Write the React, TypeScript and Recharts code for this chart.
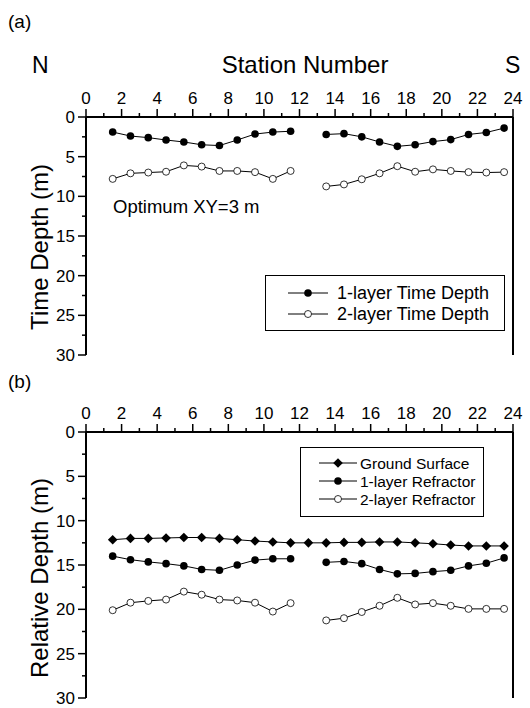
import React from 'react';
import { LineChart, Line, XAxis, YAxis, Legend } from 'recharts';

// station positions (12.5 only measured for ground surface)
const stations = [1.5, 2.5, 3.5, 4.5, 5.5, 6.5, 7.5, 8.5, 9.5, 10.5, 11.5, 12.5, 13.5, 14.5, 15.5, 16.5, 17.5, 18.5, 19.5, 20.5, 21.5, 22.5, 23.5];

// (a) time depths, m
const timeDepth1 = [1.9, 2.4, 2.6, 2.9, 3.15, 3.5, 3.6, 2.9, 2.15, 1.9, 1.8, null, 2.2, 2.1, 2.5, 3.15, 3.7, 3.5, 3.1, 2.85, 2.2, 1.95, 1.4];
const timeDepth2 = [7.8, 7.1, 7.0, 6.9, 6.1, 6.25, 6.8, 6.8, 6.95, 7.8, 6.8, null, 8.75, 8.5, 7.85, 7.1, 6.2, 6.9, 6.6, 6.8, 6.95, 7.0, 6.95];

// (b) relative depths, m
const groundSurface = [12.15, 12.0, 12.0, 11.95, 11.9, 11.9, 12.0, 12.15, 12.3, 12.4, 12.5, 12.5, 12.5, 12.45, 12.45, 12.4, 12.4, 12.5, 12.6, 12.75, 12.85, 12.85, 12.85];
const refractor1 = [14.0, 14.4, 14.65, 14.85, 15.1, 15.5, 15.6, 15.0, 14.45, 14.3, 14.3, null, 14.7, 14.6, 14.85, 15.5, 16.0, 15.95, 15.75, 15.6, 15.1, 14.8, 14.2];
const refractor2 = [20.1, 19.25, 19.05, 18.9, 18.0, 18.35, 18.9, 19.0, 19.25, 20.25, 19.3, null, 21.25, 21.0, 20.3, 19.6, 18.7, 19.45, 19.3, 19.6, 19.95, 19.95, 19.95];

const xTicks = [0, 1, 2, 3, 4, 5, 6, 7, 8, 9, 10, 11, 12, 13, 14, 15, 16, 17, 18, 19, 20, 21, 22, 23, 24];
const yTicks = [0, 2.5, 5, 7.5, 10, 12.5, 15, 17.5, 20, 22.5, 25, 27.5, 30];

const dataA = stations.map((s, i) => ({ s, td1: timeDepth1[i], td2: timeDepth2[i] }));
const dataB = stations.map((s, i) => ({ s, gs: groundSurface[i], r1: refractor1[i], r2: refractor2[i] }));

const FONT = '"Liberation Sans", Arial, sans-serif';
const TS = 8;
const TM = 3;

function Marker({ cx, cy, kind }: { cx: number; cy: number; kind: string }) {
    if (cx == null || cy == null) return null;
    if (kind === 'diamond') {
        const d = 4.8;
        return <polygon points={`${cx},${cy - d} ${cx + d},${cy} ${cx},${cy + d} ${cx - d},${cy}`} fill="#000" />;
    }
    if (kind === 'open') return <circle cx={cx} cy={cy} r={3.5} fill="#fff" stroke="#000" strokeWidth={0.8} />;
    return <circle cx={cx} cy={cy} r={3.8} fill="#000" />;
}

const dotOf = (kind: string) => (p: any) => <Marker key={p.index} cx={p.cx} cy={p.cy} kind={kind} />;

function TopTick(p: any) {
    const v = p.payload.value;
    const major = v % 2 === 0;
    const ay = p.y + TM + TS;
    return (
        <g>
            <line x1={p.x} x2={p.x} y1={ay - (major ? 8 : 4)} y2={ay} stroke="#000" strokeWidth={1.5} />
            {major && <text x={p.x} y={ay - 13} textAnchor="middle" fontSize={17} fontFamily={FONT} fill="#000">{v}</text>}
        </g>
    );
}

function LeftTick(p: any) {
    const v = p.payload.value;
    const major = v % 5 === 0;
    const ax = p.x + TM + TS;
    return (
        <g>
            <line x1={ax - (major ? 8 : 4)} x2={ax} y1={p.y} y2={p.y} stroke="#000" strokeWidth={1.5} />
            {major && <text x={ax - 11} y={p.y} dy="0.36em" textAnchor="end" fontSize={17} fontFamily={FONT} fill="#000">{v}</text>}
        </g>
    );
}

function RightTick(p: any) {
    const v = p.payload.value;
    const major = v % 5 === 0;
    const ax = p.x - TM - TS;
    return <line x1={ax} x2={ax + (major ? 8 : 4)} y1={p.y} y2={p.y} stroke="#000" strokeWidth={1.5} />;
}

type Entry = { name: string; kind: string };
const legendA: Entry[] = [
    { name: '1-layer Time Depth', kind: 'filled' },
    { name: '2-layer Time Depth', kind: 'open' },
];
const legendB: Entry[] = [
    { name: 'Ground Surface', kind: 'diamond' },
    { name: '1-layer Refractor', kind: 'filled' },
    { name: '2-layer Refractor', kind: 'open' },
];

const legendBox = (entries: Entry[], o: any) => () => (
    <svg width={o.w} height={o.h} style={{ display: 'block', overflow: 'visible' }}>
        <rect x={0.5} y={0.5} width={o.w - 1} height={o.h - 1} fill="#fff" stroke="#000" strokeWidth={1} />
        {entries.map((e, i) => {
            const y = o.top + i * o.rowH;
            return (
                <g key={e.name}>
                    <line x1={o.l1} x2={o.l2} y1={y} y2={y} stroke="#000" strokeWidth={1} />
                    <Marker cx={(o.l1 + o.l2) / 2} cy={y} kind={e.kind} />
                    <text x={o.tx} y={y} dy="0.36em" fontSize={o.fs} fontFamily={FONT} fill="#000">{e.name}</text>
                </g>
            );
        })}
    </svg>
);

const axisLine = { stroke: '#000', strokeWidth: 2 };

function Panel({ data, height, top, series, legend }: any) {
    return (
        <div style={{ position: 'absolute', left: 0, top }}>
            <LineChart width={530} height={height} data={data} margin={{ top: top === 0 ? 87 : 22, left: 46, right: 7, bottom: top === 0 ? 25 : 10 }}>
                <XAxis dataKey="s" type="number" orientation="top" domain={[0, 24]} ticks={xTicks} interval={0} height={30}
                    axisLine={axisLine} tickLine={false} tickSize={TS} tickMargin={TM} tick={<TopTick />} />
                <YAxis yAxisId="l" type="number" domain={[0, 30]} reversed ticks={yTicks} interval={0} width={40}
                    axisLine={axisLine} tickLine={false} tickSize={TS} tickMargin={TM} tick={<LeftTick />} />
                <YAxis yAxisId="r" orientation="right" type="number" domain={[0, 30]} reversed ticks={yTicks} interval={0} width={10}
                    axisLine={axisLine} tickLine={false} tickSize={TS} tickMargin={TM} tick={<RightTick />} />
                {series.map((sr: any) => (
                    <Line key={sr.key} yAxisId="l" dataKey={sr.key} name={sr.name} stroke="#000" strokeWidth={1}
                        dot={dotOf(sr.kind)} activeDot={false} connectNulls={false} isAnimationActive={false} />
                ))}
                <Legend layout="vertical" align="center" verticalAlign="middle" content={legend.content}
                    wrapperStyle={{ position: 'absolute', left: legend.left, top: legend.top, width: legend.w, height: legend.h }} />
            </LineChart>
        </div>
    );
}

const boxA = { w: 240, h: 56, top: 18, rowH: 21, l1: 23, l2: 63, tx: 72, fs: 18 };
const boxB = { w: 184, h: 70, top: 16, rowH: 18, l1: 19, l2: 57, tx: 60, fs: 15.5 };

export default function App() {
    const textStyle = { fontFamily: FONT, fill: '#000' };
    return (
        <div style={{ position: 'absolute', left: 0, top: 0, width: 530, height: 708, background: '#fff' }}>
            <Panel data={dataA} height={380} top={0}
                series={[{ key: 'td1', name: legendA[0].name, kind: 'filled' }, { key: 'td2', name: legendA[1].name, kind: 'open' }]}
                legend={{ left: 265, top: 275, w: boxA.w, h: boxA.h, content: legendBox(legendA, boxA) }} />
            <Panel data={dataB} height={328} top={380}
                series={[{ key: 'gs', name: legendB[0].name, kind: 'diamond' }, { key: 'r1', name: legendB[1].name, kind: 'filled' }, { key: 'r2', name: legendB[2].name, kind: 'open' }]}
                legend={{ left: 300, top: 67, w: boxB.w, h: boxB.h, content: legendBox(legendB, boxB) }} />
            <svg width={530} height={708} style={{ position: 'absolute', left: 0, top: 0, pointerEvents: 'none' }}>
                <text x={8} y={28} fontSize={19} {...textStyle}>(a)</text>
                <text x={32} y={73} fontSize={23} {...textStyle}>N</text>
                <text x={305} y={73} fontSize={24} textAnchor="middle" {...textStyle}>Station Number</text>
                <text x={505} y={73} fontSize={23} {...textStyle}>S</text>
                <text x={8} y={388} fontSize={19} {...textStyle}>(b)</text>
                <text x={113} y={213} fontSize={18.5} {...textStyle}>Optimum XY=3 m</text>
                <text transform="translate(48,247) rotate(-90)" fontSize={24} textAnchor="middle" {...textStyle}>Time Depth (m)</text>
                <text transform="translate(48,578) rotate(-90)" fontSize={24} textAnchor="middle" {...textStyle}>Relative Depth (m)</text>
            </svg>
        </div>
    );
}
